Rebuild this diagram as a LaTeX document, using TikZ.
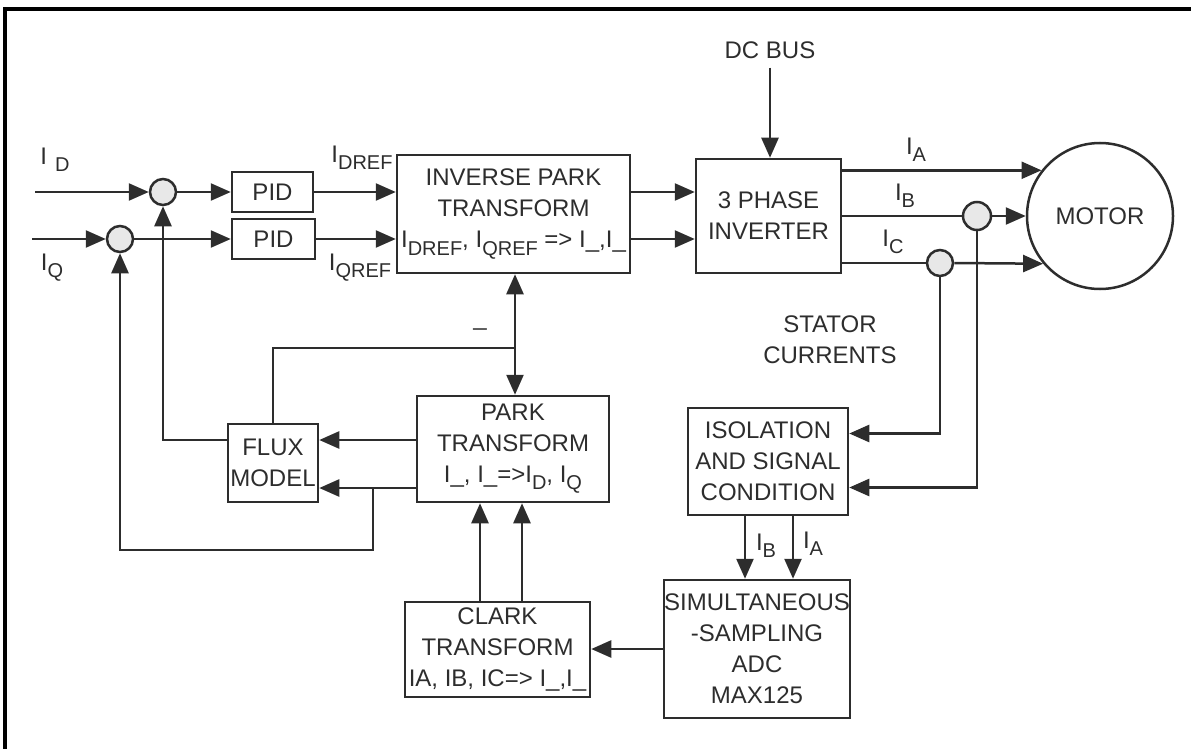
\documentclass[tikz,border=0pt]{standalone}
\usepackage{fontspec}
\setmainfont{Liberation Sans}
\usetikzlibrary{arrows.meta}
\definecolor{lc}{RGB}{45,45,45}
\definecolor{cf}{RGB}{232,232,232}
\newcommand\sbs[1]{\raisebox{-0.3em}{\fontsize{20}{20}\selectfont #1}}
\begin{document}
\begin{tikzpicture}[x=1pt,y=-1pt,line width=2.5pt,
  every node/.style={font=\fontsize{24}{31}\selectfont, text=lc},
  blk/.style={draw=lc, line width=2.5pt, rectangle, align=center, inner sep=0pt},
  sumc/.style={circle, draw=lc, fill=cf, minimum size=26pt, inner sep=0pt, line width=2.5pt},
  arr/.style={draw=lc, -{Triangle[length=20pt,width=17pt]}},
  darr/.style={draw=lc, {Triangle[length=20pt,width=17pt]}-{Triangle[length=20pt,width=17pt]}},
  ln/.style={draw=lc},
  lbl/.style={inner sep=0pt}]
\useasboundingbox (0,0) rectangle (1191,749);
% frame
\draw[black, line width=4pt] (5,749) -- (5,9) -- (1191,9);

% blocks
\node[blk, minimum width=81pt, minimum height=40pt] (pid1) at (272.5,192) {PID};
\node[blk, minimum width=83pt, minimum height=40pt] (pid2) at (273.5,239) {PID};
\node[blk, minimum width=233pt, minimum height=118pt] (inv) at (513.5,214) {INVERSE PARK\\TRANSFORM\\I\sbs{DREF}, I\sbs{QREF} => I\_,I\_};
\node[blk, minimum width=145pt, minimum height=114pt] (inverter) at (768.5,216) {3 PHASE\\INVERTER};
\node[circle, draw=lc, line width=2.5pt, minimum size=146pt, inner sep=0pt] (motor) at (1100,216) {MOTOR};
\node[blk, minimum width=192pt, minimum height=106pt] (park) at (513,449) {PARK\\TRANSFORM\\I\_, I\_=>I\sbs{D}, I\sbs{Q}};
\node[blk, minimum width=90pt, minimum height=78pt] (flux) at (273,463) {FLUX\\MODEL};
\node[blk, minimum width=160pt, minimum height=107pt] (iso) at (768,461.5) {ISOLATION\\AND SIGNAL\\CONDITION};
\node[blk, minimum width=180pt, minimum height=138pt] (adc) at (757,649) {SIMULTANEOUS\\-SAMPLING\\ADC\\MAX125};
\node[blk, minimum width=185pt, minimum height=95pt] (clark) at (497.5,649.5) {CLARK\\TRANSFORM\\IA, IB, IC=> I\_,I\_};

% summing circles
\node[sumc] (cD) at (163,192) {};
\node[sumc] (cQ) at (120,239) {};
\node[sumc, minimum size=28pt] (cB) at (977,216) {};
\node[sumc] (cC) at (940,263) {};

% labels
\node[lbl] (lD) at (55,160) {I\,\,\sbs{D}};
\node[lbl] (lQ) at (52,268) {I\sbs{Q}};
\node[lbl] (lDR) at (362,158) {I\sbs{DREF}};
\node[lbl] (lQR) at (360,268) {I\sbs{QREF}};
\node[lbl] (dcbus) at (770,50) {DC BUS};
\node[lbl] (lA) at (916,150) {I\sbs{A}};
\node[lbl] (lB) at (905,196) {I\sbs{B}};
\node[lbl] (lC) at (893,242) {I\sbs{C}};
\node[lbl, align=center] (stator) at (830,340) {STATOR\\CURRENTS};
\node[lbl] (lB2) at (766,546) {I\sbs{B}};
\node[lbl] (lA2) at (813,544) {I\sbs{A}};
\node[lbl] (theta) at (480,328) {\_};

% inputs
\coordinate (inD) at (35,192);
\coordinate (inQ) at (32,239);
\draw[arr] (inD) -- (cD.west);
\draw[arr] (inQ) -- (cQ.west);
\draw[arr] (cD.east) -- (pid1.west);
\draw[arr] (cQ.east) -- (pid2.west);
\draw[arr] (pid1.east) -- (pid1.east -| inv.west);
\draw[arr] (pid2.east) -- (pid2.east -| inv.west);
\draw[arr] (inv.east |- pid1) -- (inverter.west |- pid1);
\draw[arr] (inv.east |- pid2) -- (inverter.west |- pid2);

% DC bus
\draw[arr] ([yshift=-8pt]dcbus.south) -- (inverter.north -| dcbus.south);

% phases
\draw[arr] (inverter.east |- motor.142) -- (motor.142);
\draw[ln] (inverter.east |- cB) -- (cB.west);
\draw[arr] (cB.east) -- (motor.west |- cB);
\draw[ln] (inverter.east |- cC) -- (cC.west);
\draw[arr] (cC.east) -- (motor.220);

% current sensing
\draw[arr] (cC.south) |- ([yshift=28pt]iso.east);
\draw[arr] (cB.south) |- ([yshift=-26pt]iso.east);
\draw[arr] ([xshift=-23pt]iso.south) -- ([xshift=-23pt]iso.south |- adc.north);
\draw[arr] ([xshift=25pt]iso.south) -- ([xshift=25pt]iso.south |- adc.north);
\draw[arr] (adc.west) -- (adc.west -| clark.east);

% clark to park
\draw[arr] (clark.north -| 480,0) -- (park.south -| 480,0);
\draw[arr] (clark.north -| 522,0) -- (park.south -| 522,0);

% inverse park <-> park
\draw[darr] (inv.south -| 515,0) -- (park.north -| 515,0);
\coordinate (j1) at (515,348);
\draw[ln] (j1) -| (flux.north);

% park to flux
\draw[arr] ([yshift=9pt]park.west) -- ([yshift=9pt]park.west -| flux.east);
\draw[arr] ([yshift=-39pt]park.west) -- ([yshift=-39pt]park.west -| flux.east);

% feedback
\coordinate (j2) at (373,488);
\coordinate (b1) at (373,550);
\draw[arr] (j2) -- (b1) -| (cQ.south);
\draw[arr] ([yshift=23pt]flux.west) -| (cD.south);
\end{tikzpicture}
\end{document}
